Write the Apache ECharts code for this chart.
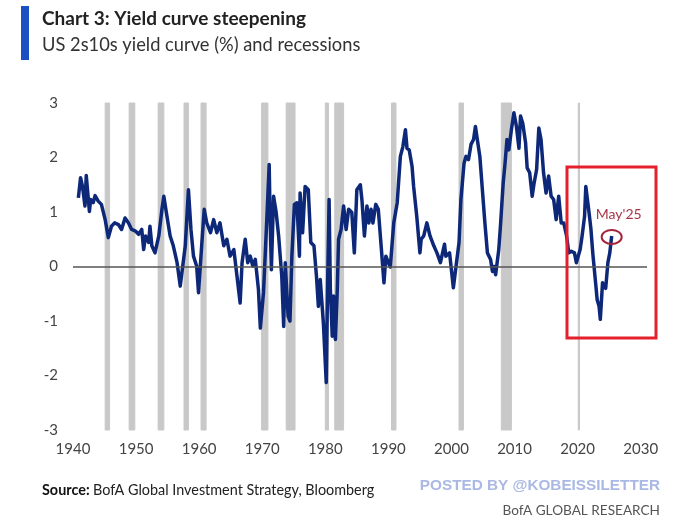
<!DOCTYPE html>
<html>
<head>
<meta charset="utf-8">
<script src="https://cdn.jsdelivr.net/npm/echarts@6/dist/echarts.min.js"></script>
<style>
html,body{margin:0;padding:0;background:#fff;}
#c{width:680px;height:527px;}
</style>
</head>
<body>
<div id="c"></div>
<script>
// ---- Data ----
var years = [
1940.85,1941.2,1941.5,1941.9,1942.1,1942.6,1942.8,1943.2,1943.5,1944.0,1944.5,1945.1,1945.6,1946.1,1946.6,1947.2,1947.7,1948.25,1948.8,1949.3,1949.9,1950.4,1950.9,1951.2,1951.5,1952.0,1952.2,1952.5,1953.0,1953.6,1954.1,1954.4,1954.8,1955.4,1955.9,1956.5,1957.0,1957.4,1957.8,1958.3,1958.7,1959.1,1959.6,1959.9,1960.4,1960.8,1961.2,1961.8,1962.3,1962.8,1963.3,1963.9,1964.4,1964.9,1965.5,1966.0,1966.5,1966.8,1967.3,1967.7,1968.1,1968.5,1968.9,1969.4,1969.7,1970.2,1970.7,1971.1,
1971.25,1971.45,1971.8,1972.2,1972.6,1973.1,1973.4,1973.65,1974.1,1974.4,1974.7,1975.1,1975.5,1975.9,1976.0,1976.4,1976.8,1977.3,1977.7,1978.2,1978.6,1978.9,1979.2,1979.7,1980.15,1980.35,1980.6,1980.8,1981.1,1981.3,1981.6,1981.9,1982.1,1982.5,1982.9,1983.3,1983.7,1984.2,1984.6,1985.0,1985.55,1985.8,1986.2,1986.6,1986.9,1987.25,1987.55,1988.0,1988.4,1988.85,1989.3,1989.6,1990.0,1990.3,1990.85,1991.4,1991.9,1992.3,1992.7,1992.95,1993.3,1993.75,1994.0,1994.5,1995.0,1995.2,1995.6,1996.1,1996.6,1997.2,1997.7,1998.25,
1998.9,1999.1,1999.7,2000.3,2000.6,2001.2,2001.5,2002.0,2002.3,2002.7,2003.1,2003.5,2003.8,2004.1,2004.5,2004.9,2005.3,2005.7,2006.2,2006.5,2006.75,2007.0,2007.5,2007.8,2008.2,2008.5,2008.8,2009.1,2009.5,2009.9,2010.3,2010.7,2010.95,2011.3,2011.75,2012.0,2012.4,2012.8,2013.1,2013.5,2013.85,2014.2,2014.6,2015.0,2015.4,2015.8,2016.2,2016.6,2017.0,2017.4,2017.8,2018.25,2018.6,2019.0,2019.5,2019.8,2020.4,2020.7,2021.1,2021.3,2021.8,2022.1,2022.4,2022.9,2023.1,2023.4,2023.6,2023.95,2024.15,2024.45,2024.8,2025.1,2025.4
];
var spread = [
1.26,1.63,1.47,1.11,1.67,1.01,1.23,1.17,1.30,1.20,1.14,0.86,0.53,0.74,0.80,0.77,0.68,0.89,0.80,0.68,0.65,0.59,0.68,0.31,0.56,0.44,0.74,0.38,0.25,0.56,1.05,1.29,0.99,0.56,0.38,0.07,-0.36,0.01,0.38,1.41,0.68,0.19,0.01,-0.48,0.38,1.05,0.80,0.62,0.86,0.62,0.80,0.38,0.50,0.19,0.31,-0.18,-0.67,0.07,0.50,0.07,0.19,0.01,0.13,-0.42,-1.13,-0.48,0.80,1.87,
0.90,-0.06,1.29,1.00,0.56,-0.18,-1.10,0.07,-0.91,-1.00,0.19,1.14,1.17,0.19,1.35,0.62,1.47,1.41,0.44,0.38,-0.18,-0.73,-0.24,-1.05,-2.13,-0.42,1.23,-0.42,-1.28,-0.54,-1.34,-0.42,0.50,0.68,1.11,0.68,1.05,0.99,0.25,1.41,1.50,1.23,0.56,1.11,0.80,1.05,0.80,1.14,1.05,0.38,-0.30,0.19,0.07,-0.01,0.80,1.17,2.02,2.20,2.51,2.17,2.14,1.84,1.47,0.92,0.25,0.50,0.56,0.80,0.56,0.38,0.25,0.07,
0.41,0.19,0.25,-0.39,-0.36,0.44,1.23,1.90,2.02,1.96,2.24,2.33,2.57,2.33,2.02,1.41,0.80,0.25,0.13,-0.09,0.00,-0.15,0.31,0.80,1.53,1.90,2.33,2.14,2.51,2.82,2.57,2.17,2.76,2.63,2.27,1.81,1.72,1.29,1.53,1.78,2.54,2.33,1.72,1.35,1.66,1.29,1.23,0.86,1.29,0.80,0.80,0.56,0.25,0.28,0.25,0.07,0.31,0.55,0.92,1.47,1.00,0.70,0.25,-0.36,-0.61,-0.73,-0.97,-0.30,-0.30,-0.40,0.07,0.25,0.56
];
var recessionStart = [1945.1,1948.9,1953.5,1957.6,1960.3,1969.9,1973.8,1980.0,1981.5,1990.5,2001.2,2007.9,2020.1];
var recessionEnd   = [1945.8,1949.8,1954.4,1958.3,1961.1,1970.9,1975.2,1980.5,1982.9,1991.2,2001.9,2009.5,2020.3];
var yTicks = [-3,-2,-1,0,1,2,3];
var xTickLabels = ['1940','1950','1960','1970','1980','1990','2000','2010','2020','2030'];
var annotationLabel = "May'25";

var lineData = years.map(function(y,i){return [y, spread[i]];});
var recAreas = recessionStart.map(function(s,i){return [{xAxis:s},{xAxis:recessionEnd[i]}];});

var chart = echarts.init(document.getElementById('c'), null, {renderer:'canvas'});
var FONT = 'Lato, "Open Sans", sans-serif';
var option = {
  animation:false,
  backgroundColor:'#ffffff',
  grid:{left:73,right:33,top:103,bottom:97,containLabel:false,outerBoundsMode:'none'},
  xAxis:{
    type:'value', min:1940, max:2031, interval:10,
    axisLine:{show:false}, axisTick:{show:false}, splitLine:{show:false},
    axisLabel:{color:'#444',fontSize:15,fontFamily:FONT,margin:12,showMaxLabel:false,
      formatter:function(v){var s=String(Math.round(v));return xTickLabels.indexOf(s)>=0?s:'';}}
  },
  yAxis:{
    type:'value', min:yTicks[0], max:yTicks[yTicks.length-1], interval:1,
    axisLine:{show:false}, axisTick:{show:false}, splitLine:{show:false},
    axisLabel:{color:'#444',fontSize:15,fontFamily:FONT,margin:15}
  },
  series:[{
    type:'line', data:lineData, showSymbol:false, symbol:'none',
    lineStyle:{color:'#0d2878',width:3.5,join:'round'},
    markArea:{silent:true,itemStyle:{color:'#c8c8c8',borderColor:'#c8c8c8',borderWidth:1},data:recAreas},
    markLine:{silent:true,symbol:['none','none'],label:{show:false},
      lineStyle:{color:'#555',width:1.5,type:'solid'},data:[{yAxis:0}]},
    z:3
  }]
};
chart.setOption(option);

// annotations
var endPt = chart.convertToPixel({gridIndex:0},[years[years.length-1], spread[spread.length-1]]);
chart.setOption({
  graphic:[
    {type:'rect',shape:{x:21,y:6,width:8,height:54},style:{fill:'#1b4fc4'}},
    {type:'text',left:42,top:9,style:{text:'Chart 3: Yield curve steepening',fontSize:19,fontWeight:'bold',fontFamily:FONT,fill:'#222'}},
    {type:'text',left:42,top:36,style:{text:'US 2s10s yield curve (%) and recessions',fontSize:18.3,fontFamily:FONT,fill:'#333'}},
    {type:'rect',shape:{x:567,y:167,width:89,height:171},style:{fill:'none',stroke:'#e3202c',lineWidth:3},z:10},
    {type:'ellipse',shape:{cx:endPt[0],cy:endPt[1]+1,rx:10,ry:7},style:{fill:'none',stroke:'#a3263c',lineWidth:2},z:10},
    {type:'text',x:endPt[0]+7,y:endPt[1]-21,style:{text:annotationLabel,fontSize:14,fontFamily:FONT,fill:'#a83448',align:'center',verticalAlign:'middle'},z:10},
    {type:'text',left:42,top:483,style:{rich:{b:{fontWeight:'bold',fontSize:14.4,fontFamily:FONT,fill:'#111'},n:{fontSize:14.4,fontFamily:FONT,fill:'#222'}},text:'{b|Source:} {n|BofA Global Investment Strategy, Bloomberg}'}},
    {type:'text',right:20,top:478,style:{text:'POSTED BY @KOBEISSILETTER',fontSize:15.3,fontWeight:'bold',fontFamily:'"Liberation Sans", Arial, sans-serif',fill:'#aab9e4'}},
    {type:'text',right:20,top:504,style:{text:'BofA GLOBAL RESEARCH',fontSize:13.6,fontFamily:FONT,fill:'#555'}}
  ]
});
</script>
</body>
</html>
